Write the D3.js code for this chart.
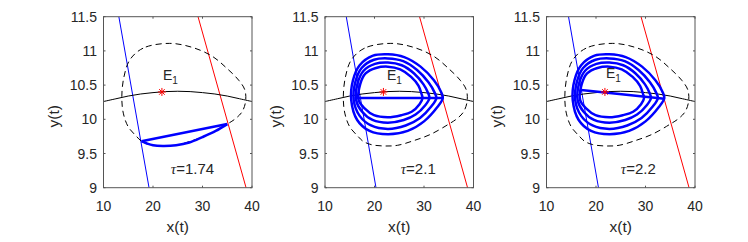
<!DOCTYPE html>
<html>
<head>
<meta charset="utf-8">
<script src="https://cdn.jsdelivr.net/npm/d3@7"></script>
<style>
  body { margin: 0; background: #fff; }
  svg { display: block; }
  text { font-family: "Liberation Sans", Arial, Helvetica, sans-serif; fill: #262626; }
</style>
</head>
<body>
<svg id="chart" width="748" height="242"></svg>
<script>

var xTicks = [10, 20, 30, 40];
var yTicks = [9, 9.5, 10, 10.5, 11, 11.5];
var tauLabels = ["1.74", "2.1", "2.2"];
var tauPos = [[23.6, 9.2], [25.3, 9.2], [25.0, 9.2]];
var e1Pos = [[22.0, 10.58], [22.5, 10.58], [22.0, 10.6]];
var equilibrium = [21.8, 10.40];

// black solid curve
var arcX = [10, 12.5, 15, 17.5, 20, 22.5, 25, 27.5, 30, 32.5, 35, 37.5, 40];
var arcY = [10.26, 10.30, 10.34, 10.37, 10.39, 10.405, 10.41, 10.405, 10.39, 10.37, 10.34, 10.30, 10.26];

// dashed closed curve
var boundary = [
  [23.3, 11.11], [18.0, 11.04], [15.33, 10.87], [14.13, 10.62], [13.7, 10.33],
  [14.0, 10.09], [15.0, 9.89], [16.67, 9.75], [17.67, 9.68], [19.33, 9.63],
  [22.0, 9.61], [24.67, 9.62], [28.0, 9.69], [31.33, 9.78], [35.0, 9.93],
  [36.67, 10.01], [38.0, 10.11], [38.7, 10.26], [38.55, 10.43], [37.33, 10.57],
  [35.0, 10.74], [32.0, 10.92], [28.0, 11.05]
];

var redLine = [[29.1, 11.5], [38.8, 9]];
var blueLines = [
  [[13.1, 11.5], [19.2, 9]],
  [[14.3, 11.5], [20.3, 9]],
  [[14.45, 11.5], [20.5, 9]]
];

// tau = 1.74 orbit
var orbitJump = [[17.67, 9.68], [35.0, 9.93]];
var orbitBottom = [
  [35.0, 9.93], [32.67, 9.83], [30.0, 9.74], [27.33, 9.66], [24.67, 9.62],
  [22.0, 9.61], [20.0, 9.62], [18.67, 9.65], [17.67, 9.68]
];

// tau = 2.1 / 2.2 loops, outer to inner
var loop1 = [[15.3,10.28],[15.65,10.57],[17.0,10.79],[19.7,10.93],[22.7,10.95],[26.0,10.91],[29.3,10.77],[32.0,10.57],[33.45,10.40],[33.8,10.31],[32.7,10.18],[30.0,9.97],[26.7,9.83],[22.7,9.78],[19.0,9.83],[16.5,9.99]];
var loop2 = [[15.8,10.28],[16.15,10.55],[17.4,10.75],[19.9,10.87],[22.7,10.89],[25.8,10.85],[28.6,10.72],[30.9,10.54],[32.15,10.39],[32.5,10.31],[31.5,10.19],[29.2,10.02],[26.3,9.91],[22.7,9.86],[19.3,9.91],[17.0,10.05]];
var loop3 = [[16.3,10.28],[16.6,10.53],[17.8,10.71],[20.1,10.81],[22.7,10.83],[25.5,10.79],[28.0,10.67],[29.9,10.51],[30.85,10.38],[31.1,10.31],[30.3,10.21],[28.3,10.07],[25.9,9.99],[22.7,9.95],[19.6,9.99],[17.5,10.11]];
var loop4 = [[16.8,10.28],[17.1,10.51],[18.2,10.67],[20.3,10.75],[22.7,10.77],[25.2,10.73],[27.4,10.62],[28.9,10.49],[29.5,10.37],[29.7,10.31],[29.1,10.22],[27.5,10.11],[25.4,10.06],[22.7,10.03],[19.9,10.06],[18.0,10.16]];
var jump21 = [[16.0, 10.31], [33.8, 10.31]];
var jump22 = [[17.0, 10.43], [33.8, 10.30]];

var panelLeft = [103.5, 325, 546.5];
var panelW = 148.5;
var yTop = 16.7, yBottom = 187.7;

var svg = d3.select("#chart");

panelLeft.forEach(function(left, i) {
  var x = d3.scaleLinear().domain([10, 40]).range([left, left + panelW]);
  var y = d3.scaleLinear().domain([9, 11.5]).range([yBottom, yTop]);

  var g = svg.append("g");

  g.append("clipPath").attr("id", "clip" + i)
    .append("rect")
      .attr("x", left).attr("y", yTop)
      .attr("width", panelW).attr("height", yBottom - yTop);

  var plot = g.append("g").attr("clip-path", "url(#clip" + i + ")");

  var line = d3.line().x(d => x(d[0])).y(d => y(d[1]));
  var smooth = d3.line().x(d => x(d[0])).y(d => y(d[1])).curve(d3.curveCatmullRom);
  var closed = d3.line().x(d => x(d[0])).y(d => y(d[1])).curve(d3.curveCatmullRomClosed);

  plot.append("path")
    .attr("d", line(blueLines[i]))
    .attr("fill", "none").attr("stroke", "#0000ff").attr("stroke-width", 1);

  plot.append("path")
    .attr("d", line(redLine))
    .attr("fill", "none").attr("stroke", "#ff0000").attr("stroke-width", 1);

  plot.append("path")
    .attr("d", smooth(arcX.map((v, k) => [v, arcY[k]])))
    .attr("fill", "none").attr("stroke", "#000").attr("stroke-width", 1);

  plot.append("path")
    .attr("d", closed(boundary))
    .attr("fill", "none").attr("stroke", "#000").attr("stroke-width", 1)
    .attr("stroke-dasharray", "6,4");

  var blue = plot.append("g")
    .attr("fill", "none").attr("stroke", "#0000ff")
    .attr("stroke-width", 2.5).attr("stroke-linejoin", "round");

  if (i == 0) {
    blue.append("path").attr("d", line(orbitJump));
    blue.append("path").attr("d", smooth(orbitBottom));
  } else {
    [loop1, loop2, loop3, loop4].forEach(function(l) {
      blue.append("path").attr("d", closed(l));
    });
    blue.append("path").attr("d", line(i == 1 ? jump21 : jump22));
  }

  // equilibrium marker (MATLAB '*')
  var ex = x(equilibrium[0]), ey = y(equilibrium[1]), r = 4;
  plot.append("path")
    .attr("d", `M${ex - r},${ey}L${ex + r},${ey}M${ex},${ey - r}L${ex},${ey + r}` +
      `M${ex - r * 0.7},${ey - r * 0.7}L${ex + r * 0.7},${ey + r * 0.7}` +
      `M${ex - r * 0.7},${ey + r * 0.7}L${ex + r * 0.7},${ey - r * 0.7}`)
    .attr("stroke", "#ff0000").attr("stroke-width", 1);

  var e1 = g.append("text")
    .attr("x", x(e1Pos[i][0])).attr("y", y(e1Pos[i][1]))
    .style("font-size", "14px");
  e1.append("tspan").text("E");
  e1.append("tspan").attr("dy", 4).style("font-size", "10px").text("1");

  var tau = g.append("text")
    .attr("x", x(tauPos[i][0])).attr("y", y(tauPos[i][1]))
    .style("font-size", "15px");
  tau.append("tspan").style("font-style", "italic")
    .style("font-family", "'Liberation Serif', serif").text("τ");
  tau.append("tspan").text("=" + tauLabels[i]);

  // axes box
  g.append("rect")
    .attr("x", left).attr("y", yTop)
    .attr("width", panelW).attr("height", yBottom - yTop)
    .attr("fill", "none").attr("stroke", "#555").attr("stroke-width", 1);

  var tl = 2;
  xTicks.forEach(function(t) {
    g.append("line").attr("x1", x(t)).attr("x2", x(t)).attr("y1", yBottom).attr("y2", yBottom - tl)
      .attr("stroke", "#555");
    g.append("line").attr("x1", x(t)).attr("x2", x(t)).attr("y1", yTop).attr("y2", yTop + tl)
      .attr("stroke", "#555");
    g.append("text").attr("x", x(t)).attr("y", 211)
      .attr("text-anchor", "middle").style("font-size", "14px").text(t);
  });
  yTicks.forEach(function(t) {
    g.append("line").attr("x1", left).attr("x2", left + tl).attr("y1", y(t)).attr("y2", y(t))
      .attr("stroke", "#555");
    g.append("line").attr("x1", left + panelW).attr("x2", left + panelW - tl).attr("y1", y(t)).attr("y2", y(t))
      .attr("stroke", "#555");
    g.append("text").attr("x", left - 6.5).attr("y", y(t)).attr("dy", "0.36em")
      .attr("text-anchor", "end").style("font-size", "14px").text(t);
  });

  g.append("text")
    .attr("x", left + panelW / 2).attr("y", 232)
    .attr("text-anchor", "middle").style("font-size", "15.5px").text("x(t)");

  g.append("text")
    .attr("transform", `translate(${left - 44.5},${(yTop + yBottom) / 2 + 14}) rotate(-90)`)
    .attr("text-anchor", "middle").style("font-size", "15.5px").text("y(t)");
});

</script>
</body>
</html>
